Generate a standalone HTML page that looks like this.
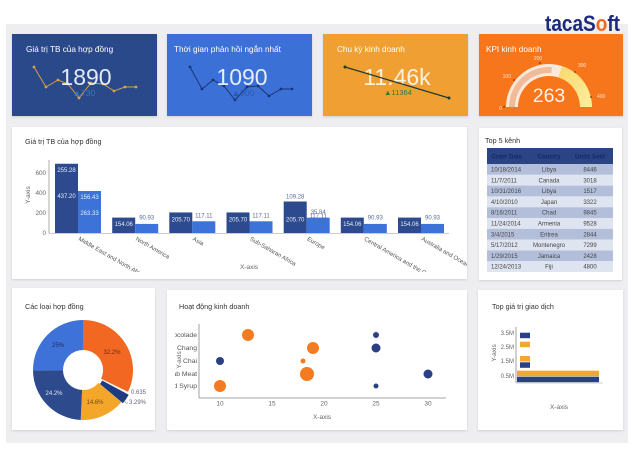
<!DOCTYPE html>
<html><head><meta charset="utf-8">
<style>
html,body{margin:0;padding:0;background:#fff;}
body{width:636px;height:457px;overflow:hidden;position:relative;font-family:"Liberation Sans","DejaVu Sans",sans-serif;}
svg{position:absolute;left:0;top:0;display:block;}
</style></head><body>
<svg width="636" height="457" viewBox="0 0 636 457" xmlns="http://www.w3.org/2000/svg" font-family="'Liberation Sans', 'DejaVu Sans', sans-serif">
<defs>
  <filter id="sh" x="-5%" y="-5%" width="110%" height="115%"><feDropShadow dx="0" dy="1" stdDeviation="1" flood-color="#000" flood-opacity="0.13"/></filter>
  <linearGradient id="yg" x1="0" y1="0" x2="1" y2="1"><stop offset="0" stop-color="#f8d86c"/><stop offset="1" stop-color="#fdef9f"/></linearGradient>
  <clipPath id="xl"><rect x="40" y="234" width="427" height="38"/></clipPath>
  <clipPath id="sl"><rect x="175" y="320" width="30" height="80"/></clipPath>
</defs>

<!-- background panel -->
<rect x="6" y="24" width="622" height="419" fill="#eeeef1"/>

<!-- logo -->
<text x="545" y="31" font-size="22" font-weight="bold" fill="#1b2a7a" textLength="75" lengthAdjust="spacingAndGlyphs">taca<tspan>S</tspan><tspan fill="#f26a21">o</tspan>ft</text>

<!-- KPI card 1 -->
<rect x="12" y="34" width="145" height="82" fill="#2c4a8a" filter="url(#sh)"/>
<text x="26" y="52" font-size="8.2" fill="#ffffff">Giá trị TB của hợp đồng</text>
<polyline points="34,67 46,87 58,80 68,84 79,98 91,83 103,84 114,91 125,87 136,87" fill="none" stroke="#d9a040" stroke-width="1"/>
<g fill="#d9a040"><circle cx="34" cy="67" r="1.4"/><circle cx="46" cy="87" r="1.4"/><circle cx="58" cy="80" r="1.4"/><circle cx="68" cy="84" r="1.4"/><circle cx="79" cy="98" r="1.4"/><circle cx="91" cy="83" r="1.4"/><circle cx="103" cy="84" r="1.4"/><circle cx="114" cy="91" r="1.4"/><circle cx="125" cy="87" r="1.4"/><circle cx="136" cy="87" r="1.4"/></g>
<text x="86" y="85" font-size="23" text-anchor="middle" fill="#eef3fb" fill-opacity="0.95">1890</text>
<text x="84" y="96" font-size="8.5" text-anchor="middle" fill="#3b78b8">▲730</text>

<!-- KPI card 2 -->
<rect x="167" y="34" width="145" height="82" fill="#3b6fd6" filter="url(#sh)"/>
<text x="174" y="52" font-size="8.2" fill="#ffffff">Thời gian phản hồi ngắn nhất</text>
<polyline points="190,67 202,89 213,80 224,86 235,100 247,87 258,86 269,96 281,89 292,89" fill="none" stroke="#1d3575" stroke-width="1"/>
<g fill="#1d3575"><circle cx="190" cy="67" r="1.4"/><circle cx="202" cy="89" r="1.4"/><circle cx="213" cy="80" r="1.4"/><circle cx="224" cy="86" r="1.4"/><circle cx="235" cy="100" r="1.4"/><circle cx="247" cy="87" r="1.4"/><circle cx="258" cy="86" r="1.4"/><circle cx="269" cy="96" r="1.4"/><circle cx="281" cy="89" r="1.4"/><circle cx="292" cy="89" r="1.4"/></g>
<text x="242" y="85" font-size="23" text-anchor="middle" fill="#eef3fb" fill-opacity="0.95">1090</text>
<text x="243" y="96" font-size="8.5" text-anchor="middle" fill="#2a5bb0">▲900</text>

<!-- KPI card 3 -->
<rect x="323" y="34" width="145" height="82" fill="#f0a032" filter="url(#sh)"/>
<text x="337" y="52" font-size="8.2" fill="#ffffff">Chu kỳ kinh doanh</text>
<text x="397" y="85" font-size="23" text-anchor="middle" fill="#fbf1df">11.46k</text>
<text x="398" y="95" font-size="7.5" text-anchor="middle" fill="#2e7a3a">▲11364</text>
<line x1="345" y1="67" x2="449" y2="98" stroke="#1f3a2f" stroke-width="1.2"/>
<circle cx="345" cy="67" r="1.5" fill="#1f3a2f"/><circle cx="449" cy="98" r="1.5" fill="#1f3a2f"/>

<!-- KPI card 4 -->
<rect x="479" y="34" width="144" height="82" fill="#f7761f" filter="url(#sh)"/>
<text x="486" y="52" font-size="8.2" fill="#ffffff">KPI kinh doanh</text>
<path d="M506,107 A43,43 0 0 1 562.29,66.10 L558.58,77.52 A31,31 0 0 0 518,107 Z" fill="#fbeadc"/>
<path d="M562.29,66.10 A43,43 0 0 1 592,107 L580,107 A31,31 0 0 0 558.58,77.52 Z" fill="url(#yg)"/>
<path d="M509,107 A40,40 0 0 1 551.79,67.10 L551.37,73.08 A34,34 0 0 0 515,107 Z" fill="#f0bb98"/>
<g fill="#7a3a10"><circle cx="504" cy="107" r="0.9"/><circle cx="514" cy="80" r="0.9"/><circle cx="540" cy="63" r="0.9"/><circle cx="575" cy="72" r="0.9"/><circle cx="591" cy="97" r="0.9"/></g>
<g font-size="5" fill="#fde3cc"><text x="502" y="110" text-anchor="end">0</text><text x="511" y="78" text-anchor="end">100</text><text x="538" y="60" text-anchor="middle">200</text><text x="578" y="67">300</text><text x="597" y="98">400</text></g>
<text x="549" y="102" font-size="19.5" text-anchor="middle" fill="#fdf3ea">263</text>

<!-- Bar chart card -->
<rect x="12" y="127" width="455" height="152" fill="#ffffff" filter="url(#sh)"/>
<text x="25" y="144" font-size="7.2" fill="#333">Giá trị TB của hợp đồng</text>
<line x1="49" y1="160" x2="49" y2="233.5" stroke="#999" stroke-width="0.8"/>
<g font-size="6.3" fill="#666" text-anchor="end"><text x="46" y="235">0</text><text x="46" y="215">200</text><text x="46" y="195">400</text><text x="46" y="175">600</text></g>
<text transform="translate(30,195) rotate(-90)" font-size="6.5" fill="#666" text-anchor="middle">Y-axis</text>
<g fill="#2c4a8d">
  <rect x="55" y="163.75" width="23" height="69.25"/>
  <rect x="112.2" y="217.59" width="23" height="15.41"/>
  <rect x="169.3" y="212.43" width="23" height="20.57"/>
  <rect x="226.5" y="212.43" width="23" height="20.57"/>
  <rect x="283.7" y="201.5" width="23" height="31.5"/>
  <rect x="340.8" y="217.59" width="23" height="15.41"/>
  <rect x="398" y="217.59" width="23" height="15.41"/>
</g>
<g fill="#3d72d8">
  <rect x="78" y="191.02" width="23" height="41.98"/>
  <rect x="135.2" y="223.91" width="23" height="9.09"/>
  <rect x="192.3" y="221.29" width="23" height="11.71"/>
  <rect x="249.5" y="221.29" width="23" height="11.71"/>
  <rect x="306.7" y="217.71" width="23" height="15.29"/>
  <rect x="363.8" y="223.91" width="23" height="9.09"/>
  <rect x="421" y="223.91" width="23" height="9.09"/>
</g>
<line x1="49" y1="233.5" x2="449" y2="233.5" stroke="#bbb" stroke-width="0.8"/>
<g font-size="6" text-anchor="middle" fill="#e6ecf8">
  <text x="66.5" y="172">255.28</text><text x="66.5" y="198">437.20</text>
  <text x="89.5" y="199">156.43</text><text x="89.5" y="215">263.33</text>
  <text x="123.7" y="226">154.06</text>
  <text x="180.8" y="221.5">205.70</text>
  <text x="238" y="221.5">205.70</text>
  <text x="295.2" y="221.5">205.70</text>
  <text x="352.3" y="226">154.06</text>
  <text x="409.5" y="226">154.06</text>
</g>
<g font-size="6" text-anchor="middle" fill="#5a6a9a">
  <text x="146.7" y="219.5">90.93</text>
  <text x="203.8" y="217.5">117.11</text>
  <text x="261" y="217.5">117.11</text>
  <text x="295.2" y="198.5">109.28</text>
  <text x="318.2" y="214">35.84</text>
  <text x="318.2" y="218">117.11</text>
  <text x="375.3" y="219.5">90.93</text>
  <text x="432.5" y="219.5">90.93</text>
</g>
<g clip-path="url(#xl)" font-size="6" fill="#555">
  <text transform="translate(78,240) rotate(30)">Middle East and North Africa</text>
  <text transform="translate(135.2,240) rotate(30)">North America</text>
  <text transform="translate(192.3,240) rotate(30)">Asia</text>
  <text transform="translate(249.5,240) rotate(30)">Sub-Saharan Africa</text>
  <text transform="translate(306.7,240) rotate(30)">Europe</text>
  <text transform="translate(363.8,240) rotate(30)">Central America and the Caribbean</text>
  <text transform="translate(421,240) rotate(30)">Australia and Oceania</text>
</g>
<text x="249" y="269" font-size="6.5" fill="#666" text-anchor="middle">X-axis</text>

<!-- Table card -->
<rect x="479" y="128" width="143" height="152" fill="#ffffff" filter="url(#sh)"/>
<text x="485" y="143" font-size="7.2" fill="#333">Top 5 kênh</text>
<rect x="487" y="148" width="126" height="16" fill="#2b4484"/>
<g font-size="6" font-weight="bold" fill="#16296a"><text x="491" y="158.5">Order Date</text><text x="549" y="158.5" text-anchor="middle">Country</text><text x="590" y="158.5" text-anchor="middle">Units Sold</text></g>
<g>
  <rect x="487" y="164" width="126" height="10.8" fill="#b3bfda"/>
  <rect x="487" y="174.8" width="126" height="10.8" fill="#dfe4f1"/>
  <rect x="487" y="185.6" width="126" height="10.8" fill="#b3bfda"/>
  <rect x="487" y="196.4" width="126" height="10.8" fill="#dfe4f1"/>
  <rect x="487" y="207.2" width="126" height="10.8" fill="#b3bfda"/>
  <rect x="487" y="218" width="126" height="10.8" fill="#dfe4f1"/>
  <rect x="487" y="228.8" width="126" height="10.8" fill="#b3bfda"/>
  <rect x="487" y="239.6" width="126" height="10.8" fill="#dfe4f1"/>
  <rect x="487" y="250.4" width="126" height="10.8" fill="#b3bfda"/>
  <rect x="487" y="261.2" width="126" height="10.8" fill="#dfe4f1"/>
</g>
<g font-size="6" fill="#444">
  <text x="491" y="171.5">10/18/2014</text><text x="549" y="171.5" text-anchor="middle">Libya</text><text x="590" y="171.5" text-anchor="middle">8446</text>
  <text x="491" y="182.3">11/7/2011</text><text x="549" y="182.3" text-anchor="middle">Canada</text><text x="590" y="182.3" text-anchor="middle">3018</text>
  <text x="491" y="193.1">10/31/2016</text><text x="549" y="193.1" text-anchor="middle">Libya</text><text x="590" y="193.1" text-anchor="middle">1517</text>
  <text x="491" y="203.9">4/10/2010</text><text x="549" y="203.9" text-anchor="middle">Japan</text><text x="590" y="203.9" text-anchor="middle">3322</text>
  <text x="491" y="214.7">8/16/2011</text><text x="549" y="214.7" text-anchor="middle">Chad</text><text x="590" y="214.7" text-anchor="middle">9845</text>
  <text x="491" y="225.5">11/24/2014</text><text x="549" y="225.5" text-anchor="middle">Armenia</text><text x="590" y="225.5" text-anchor="middle">9528</text>
  <text x="491" y="236.3">3/4/2015</text><text x="549" y="236.3" text-anchor="middle">Eritrea</text><text x="590" y="236.3" text-anchor="middle">2844</text>
  <text x="491" y="247.1">5/17/2012</text><text x="549" y="247.1" text-anchor="middle">Montenegro</text><text x="590" y="247.1" text-anchor="middle">7299</text>
  <text x="491" y="257.9">1/29/2015</text><text x="549" y="257.9" text-anchor="middle">Jamaica</text><text x="590" y="257.9" text-anchor="middle">2428</text>
  <text x="491" y="268.7">12/24/2013</text><text x="549" y="268.7" text-anchor="middle">Fiji</text><text x="590" y="268.7" text-anchor="middle">4800</text>
</g>

<!-- Pie card -->
<rect x="12" y="288" width="143" height="142" fill="#ffffff" filter="url(#sh)"/>
<text x="25" y="309" font-size="7.2" fill="#333">Các loại hợp đồng</text>
<path d="M83,320 A50,50 0 0 1 127.98,391.84 L100.99,378.74 A20,20 0 0 0 83,350 Z" fill="#f26822"/>
<path d="M127.98,391.84 A50,50 0 0 1 127.07,393.63 L100.63,379.45 A20,20 0 0 0 100.99,378.74 Z" fill="#f2f2f2"/>
<path transform="translate(1.6,1.1)" d="M127.07,393.63 A50,50 0 0 1 121.30,402.14 L98.32,382.86 A20,20 0 0 0 100.63,379.45 Z" fill="#1f3c80"/>
<path d="M121.30,402.14 A50,50 0 0 1 80.73,419.95 L82.09,389.98 A20,20 0 0 0 98.32,382.86 Z" fill="#f4a62b"/>
<path d="M80.73,419.95 A50,50 0 0 1 33.00,370.26 L63.00,370.10 A20,20 0 0 0 82.09,389.98 Z" fill="#2d4a8d"/>
<path d="M33.00,370.26 A50,50 0 0 1 83,320 L83,350 A20,20 0 0 0 63.00,370.10 Z" fill="#3e72d8"/>
<g font-size="6" text-anchor="middle">
  <text x="58" y="347" fill="#1c2f66">25%</text>
  <text x="112" y="354" fill="#6a2a10">32.2%</text>
  <text x="54" y="395" fill="#dde6f5">24.2%</text>
  <text x="95" y="404" fill="#6a4a10">14.6%</text>
</g>
<g font-size="6" fill="#667">
  <text x="131" y="394">0.635</text>
  <text x="129" y="404">3.29%</text>
</g>
<polyline points="124,400 126,403 128,403" fill="none" stroke="#667" stroke-width="0.5"/>

<!-- Scatter card -->
<rect x="167" y="290" width="300" height="140" fill="#ffffff" filter="url(#sh)"/>
<text x="179" y="309" font-size="7.2" fill="#333">Hoạt động kinh doanh</text>
<line x1="199" y1="324" x2="199" y2="398" stroke="#888" stroke-width="0.8"/>
<line x1="199" y1="398" x2="446" y2="398" stroke="#888" stroke-width="0.8"/>
<g clip-path="url(#sl)" font-size="6.8" fill="#555" text-anchor="end">
  <text x="197" y="337">Chocolade</text>
  <text x="197" y="350">Chang</text>
  <text x="197" y="363">Chai</text>
  <text x="197" y="376">Crab Meat</text>
  <text x="197" y="388">Aniseed Syrup</text>
</g>
<text transform="translate(181,360) rotate(-90)" font-size="6.5" fill="#666" text-anchor="middle">Y-axis</text>
<g font-size="6.5" fill="#666" text-anchor="middle">
  <text x="220" y="405.5">10</text><text x="272" y="405.5">15</text><text x="324" y="405.5">20</text><text x="376" y="405.5">25</text><text x="428" y="405.5">30</text>
</g>
<text x="322" y="419" font-size="6.5" fill="#666" text-anchor="middle">X-axis</text>
<g fill="#f47b20">
  <circle cx="248" cy="335" r="6"/>
  <circle cx="313" cy="348" r="6"/>
  <circle cx="303" cy="361" r="2.5"/>
  <circle cx="307" cy="374" r="7"/>
  <circle cx="220" cy="386" r="6"/>
</g>
<g fill="#2b3f85">
  <circle cx="376" cy="335" r="3"/>
  <circle cx="376" cy="348" r="4.5"/>
  <circle cx="220" cy="361" r="4"/>
  <circle cx="428" cy="374" r="4.5"/>
  <circle cx="376" cy="386" r="2.5"/>
</g>

<!-- Horizontal bar card -->
<rect x="478" y="290" width="145" height="140" fill="#ffffff" filter="url(#sh)"/>
<text x="492" y="309" font-size="7.2" fill="#333">Top giá trị giao dịch</text>
<line x1="516" y1="327" x2="516" y2="383" stroke="#888" stroke-width="0.8"/>
<line x1="516" y1="383" x2="603" y2="383" stroke="#bbb" stroke-width="0.8"/>
<g font-size="6" fill="#666" text-anchor="end">
  <text x="514" y="335">3.5M</text><text x="514" y="349">2.5M</text><text x="514" y="363">1.5M</text><text x="514" y="378">0.5M</text>
</g>
<text transform="translate(496,353) rotate(-90)" font-size="6.5" fill="#666" text-anchor="middle">Y-axis</text>
<rect x="520" y="332.7" width="10" height="5.5" fill="#2b3f85"/>
<rect x="520" y="341.7" width="10" height="5.5" fill="#f0a832"/>
<rect x="520" y="356" width="10" height="5.5" fill="#f0a832"/>
<rect x="520" y="362.3" width="10" height="5.5" fill="#2b3f85"/>
<rect x="517" y="370.7" width="82" height="5.5" fill="#f0a832"/>
<rect x="517" y="376.7" width="82" height="5.5" fill="#2b3f85"/>
<text x="559" y="409" font-size="6.5" fill="#666" text-anchor="middle">X-axis</text>
</svg>
</body></html>
